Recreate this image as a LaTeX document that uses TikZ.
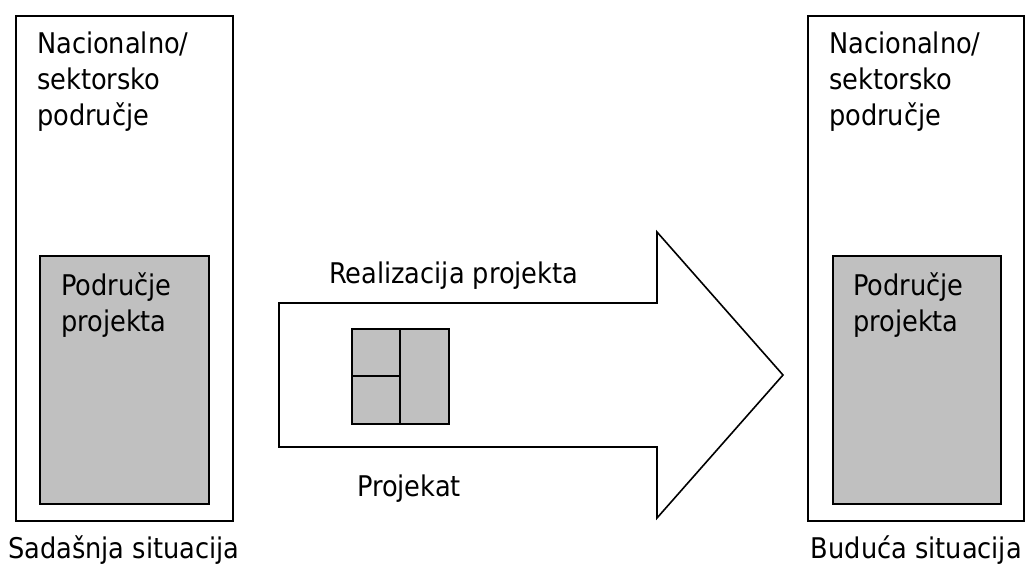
\documentclass[tikz,border=0pt]{standalone}
\usepackage{fontspec}
\setmainfont{DejaVu Sans Condensed}
\begin{document}
\begin{tikzpicture}[x=1pt,y=-1pt,
  frame/.style={draw=black,line width=1.6pt,fill=white,inner sep=0pt,anchor=north west},
  area/.style={draw=black,line width=1.6pt,fill=areagray,inner sep=0pt,anchor=north west},
  label/.style={inner sep=0pt,anchor=base west,align=left,
    font=\fontsize{28.5}{36}\selectfont}]
\definecolor{areagray}{HTML}{C0C0C0}
\useasboundingbox (0,0) rectangle (1028,571);

% current situation (multi-line labels are placed by their last baseline)
\node[frame,minimum width=217pt,minimum height=505pt] (nowbox) at (15,15) {};
\node[area,minimum width=169pt,minimum height=248pt] (nowarea) at (39,255) {};
\node[label] (nowsector) at (37,125) {Nacionalno/\\sektorsko\\područje};
\node[label] (nowproject) at (61,331) {Područje\\projekta};
\node[label] (nowcap) at (8,558) {Sadašnja situacija};

% future situation
\node[frame,minimum width=216pt,minimum height=505pt] (futbox) at (807,15) {};
\node[area,minimum width=168pt,minimum height=248pt] (futarea) at (832,255) {};
\node[label] (futsector) at (829,125) {Nacionalno/\\sektorsko\\područje};
\node[label] (futproject) at (853,331) {Područje\\projekta};
\node[label,anchor=base east] (futcap) at (1022,558) {Buduća situacija};

% the project arrow
\coordinate (a1) at (279,303);
\coordinate (a2) at (657,303);
\coordinate (a3) at (657,232);
\coordinate (tip) at (783,375);
\coordinate (a5) at (657,518);
\coordinate (a6) at (657,447);
\coordinate (a7) at (279,447);
\draw[line width=1.6pt,line join=miter] (a1) -- (a2) -- (a3) -- (tip) -- (a5) -- (a6) -- (a7) -- cycle;

% project block
\node[area,minimum width=97pt,minimum height=95pt] (block) at (351,328) {};
\coordinate (divtop) at (400,328);
\coordinate (divbot) at (400,423);
\coordinate (divmid) at (400,376);
\coordinate (divleft) at (351,376);
\draw[line width=1.6pt] (divtop) -- (divbot);
\draw[line width=1.6pt] (divleft) -- (divmid);

\node[label] (realize) at (329,283) {Realizacija projekta};
\node[label] (project) at (357,496) {Projekat};
\end{tikzpicture}
\end{document}
